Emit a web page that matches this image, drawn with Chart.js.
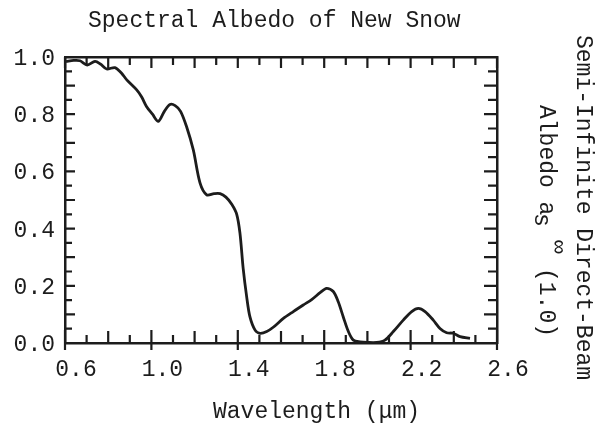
<!DOCTYPE html>
<html>
<head>
<meta charset="utf-8">
<script src="https://cdn.jsdelivr.net/npm/chart.js@4/dist/chart.umd.min.js"></script>
<style>
  html, body { margin: 0; padding: 0; background: #fff; }
  #wrap { width: 602px; height: 428px; }
</style>
</head>
<body>
<div id="wrap"><canvas id="canvas" width="602" height="428"></canvas></div>
<script>
const wavelengths = [0.605, 0.64, 0.669, 0.703, 0.739, 0.765, 0.793, 0.831, 0.86, 0.886,
    0.932, 0.955, 0.978, 1.005, 1.032, 1.06, 1.086, 1.11, 1.135, 1.163,
    1.194, 1.225, 1.256, 1.29, 1.318, 1.345, 1.372, 1.395, 1.41, 1.425,
    1.441, 1.456, 1.48, 1.503, 1.534, 1.564, 1.611, 1.657, 1.703, 1.742,
    1.781, 1.811, 1.842, 1.865, 1.888, 1.912, 1.935, 1.966, 2.0, 2.043,
    2.081, 2.12, 2.166, 2.205, 2.236, 2.267, 2.305, 2.336, 2.367, 2.398,
    2.429, 2.475];
const albedo = [0.984, 0.988, 0.987, 0.972, 0.985, 0.975, 0.958, 0.963, 0.945, 0.92,
    0.885, 0.86, 0.826, 0.8, 0.775, 0.81, 0.834, 0.83, 0.81, 0.756,
    0.675, 0.56, 0.518, 0.522, 0.522, 0.51, 0.485, 0.45, 0.384, 0.26,
    0.162, 0.092, 0.045, 0.034, 0.04, 0.055, 0.086, 0.11, 0.133, 0.152,
    0.176, 0.191, 0.18, 0.144, 0.092, 0.04, 0.01, 0.004, 0.002, 0.002,
    0.01, 0.04, 0.08, 0.11, 0.121, 0.11, 0.08, 0.051, 0.036, 0.034,
    0.022, 0.016];
const xLabels = [0.6, 1.0, 1.4, 1.8, 2.2, 2.6];
const yLabels = [0.0, 0.2, 0.4, 0.6, 0.8, 1.0];

const ink = '#1c1c1c';
const font = 'Liberation Mono';

// ticks point inward, like the typed original
function drawInnerTicks(chart) {
    const ctx = chart.ctx;
    const a = chart.chartArea;
    const xs = chart.scales.x;
    const ys = chart.scales.y;
    ctx.save();
    ctx.strokeStyle = ink;
    ctx.lineWidth = 2.2;
    ctx.beginPath();
    for (let i = 6; i <= 26; i++) {
        const px = xs.getPixelForValue(i / 10);
        let len = i % 2 === 0 ? 12 : 8;
        let out = 0;
        if ((i - 6) % 4 === 0) { len = 13; out = 7; }
        ctx.moveTo(px, a.bottom + out);
        ctx.lineTo(px, a.bottom - len);
        ctx.moveTo(px, a.top);
        ctx.lineTo(px, a.top + (i % 2 === 0 ? 11 : 8));
    }
    for (let i = 0; i <= 20; i++) {
        const py = ys.getPixelForValue(i / 20);
        ctx.moveTo(a.left, py);
        ctx.lineTo(a.left + (i % 2 === 0 ? 10 : 7), py);
        ctx.moveTo(a.right, py);
        ctx.lineTo(a.right - (i % 2 === 0 ? 13 : 9), py);
    }
    ctx.stroke();
    ctx.restore();
}

function drawTexts(chart) {
    const ctx = chart.ctx;
    ctx.save();
    ctx.fillStyle = ink;
    ctx.textBaseline = 'alphabetic';
    ctx.textAlign = 'left';
    ctx.font = `23px "${font}"`;
    ctx.fillText('Spectral Albedo of New Snow', 88, 27);
    ctx.fillText('Wavelength (\u03bcm)', 213, 418);

    // right side labels, reading top to bottom
    ctx.save();
    ctx.translate(577, 35);
    ctx.rotate(Math.PI / 2);
    ctx.fillText('Semi-Infinite Direct-Beam', 0, 0);
    ctx.restore();

    ctx.save();
    ctx.translate(540, 105);
    ctx.rotate(Math.PI / 2);
    ctx.fillText('Albedo a', 0, 0);
    ctx.fillText('s', 108, 5);
    ctx.fillText('\u221e', 135, -12);
    ctx.fillText('(1.0)', 163, 0);
    ctx.restore();
    ctx.restore();
}

const extras = {
    id: 'extras',
    afterDraw(chart) {
        drawInnerTicks(chart);
        drawTexts(chart);
    }
};

function fixSize(w, h) {
    return scale => {
        if (w !== null) scale.width = w;
        if (h !== null) scale.height = h;
    };
}

const border = { display: true, color: ink, width: 2.5 };
const noGrid = { display: false, drawTicks: false };

new Chart(document.getElementById('canvas').getContext('2d'), {
    type: 'line',
    data: {
        datasets: [{
            data: wavelengths.map((w, i) => ({ x: w, y: albedo[i] })),
            borderColor: ink,
            borderWidth: 2.8,
            pointRadius: 0,
            tension: 0.3,
            fill: false
        }]
    },
    options: {
        responsive: false,
        animation: false,
        layout: { padding: 0 },
        plugins: {
            legend: { display: false },
            tooltip: { enabled: false },
            title: { display: false }
        },
        scales: {
            x: {
                type: 'linear',
                position: 'bottom',
                min: 0.6,
                max: 2.6,
                grid: noGrid,
                border: border,
                afterFit: fixSize(null, 85),
                afterBuildTicks: scale => {
                    scale.ticks = xLabels.map(v => ({ value: v }));
                },
                ticks: {
                    color: ink,
                    font: { family: font, size: 23 },
                    padding: 13,
                    labelOffset: 11,
                    maxRotation: 0,
                    autoSkip: false,
                    callback: v => v.toFixed(1)
                }
            },
            x2: {
                type: 'linear',
                position: 'top',
                min: 0.6,
                max: 2.6,
                grid: noGrid,
                border: border,
                ticks: { display: false },
                afterFit: fixSize(null, 57)
            },
            y: {
                type: 'linear',
                position: 'left',
                min: 0,
                max: 1,
                grid: noGrid,
                border: border,
                afterFit: fixSize(65, null),
                afterBuildTicks: scale => {
                    scale.ticks = yLabels.map(v => ({ value: v }));
                },
                ticks: {
                    color: ink,
                    font: { family: font, size: 23 },
                    padding: 10,
                    labelOffset: 2,
                    autoSkip: false,
                    callback: v => v.toFixed(1)
                }
            },
            y2: {
                type: 'linear',
                position: 'right',
                min: 0,
                max: 1,
                grid: noGrid,
                border: border,
                ticks: { display: false },
                afterFit: fixSize(105, null)
            }
        }
    },
    plugins: [extras]
});
</script>
</body>
</html>
